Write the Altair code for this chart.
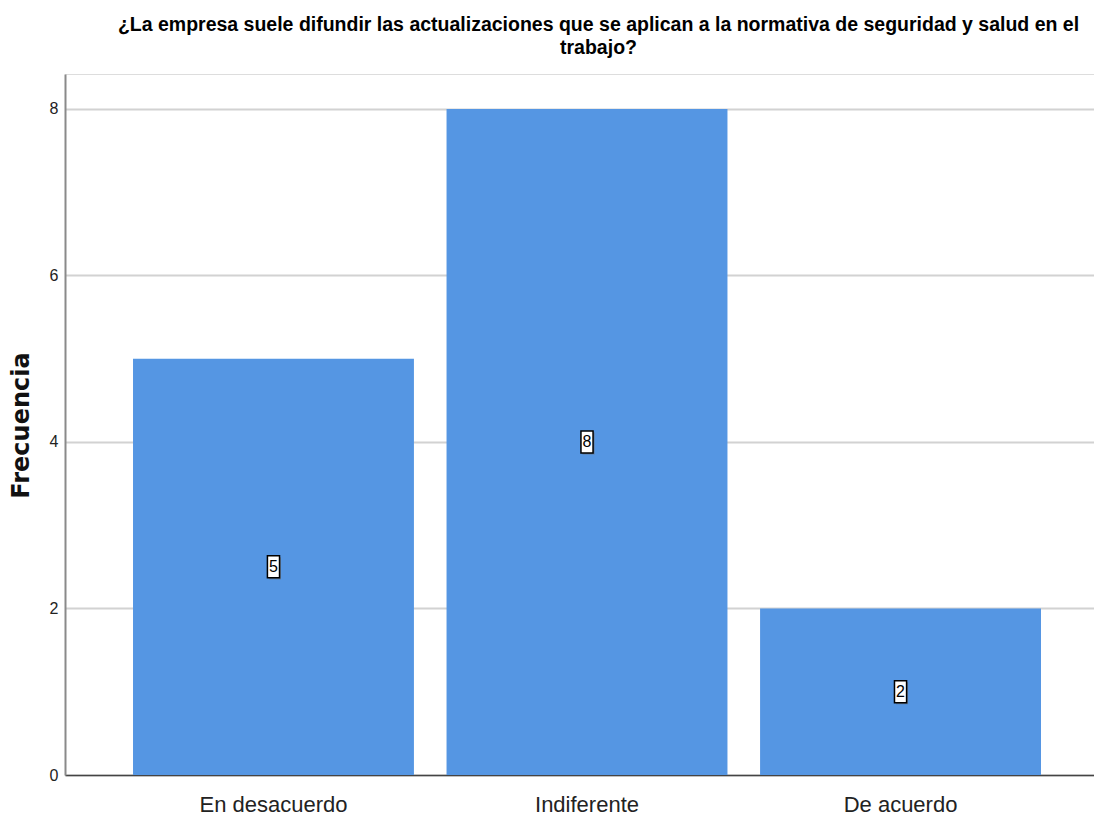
import altair as alt
import pandas as pd

categories = ["En desacuerdo", "Indiferente", "De acuerdo"]
counts = [5, 8, 2]
y_ticks = [0, 2, 4, 6, 8]
title_lines = [
    "¿La empresa suele difundir las actualizaciones que se aplican a la normativa de seguridad y salud en el",
    "trabajo?",
]
y_title = "Frecuencia"

df = pd.DataFrame({"cat": categories, "n": counts})

NARROW = "Liberation Sans Narrow, Arial Narrow, Liberation Sans, sans-serif"
BAR = "#5596e3"

xscale = alt.Scale(domain=categories, paddingInner=0.104, paddingOuter=0.193, align=0.562)
yscale = alt.Scale(domain=[0, 8.42], nice=False, zero=True)

xenc = alt.X(
    "cat:N",
    sort=categories,
    scale=xscale,
    axis=alt.Axis(
        title=None, labelAngle=0, labelFont=NARROW, labelFontSize=22,
        labelColor="#222222", ticks=False, domain=True, domainColor="#444444",
        domainWidth=1.5, labelPadding=19, grid=False,
    ),
)
yenc = alt.Y(
    "n:Q",
    scale=yscale,
    axis=alt.Axis(
        title=y_title, values=y_ticks, format="d", ticks=False, labelFont=NARROW,
        labelFontSize=16, labelColor="#222222", labelPadding=7,
        domain=True, domainColor="#8a8a8a", domainWidth=2,
        grid=True, gridColor="#d2d2d2", gridWidth=2,
        titleFont="DejaVu Sans", titleFontWeight="bold", titleFontSize=24,
        titleColor="#111111", titleAngle=270, titleX=-37, titleY=351,
        titleAlign="center", titleBaseline="alphabetic",
    ),
)

bars = alt.Chart(df).mark_bar(color=BAR).encode(x=xenc, y=yenc)

mid = alt.Chart(df).transform_calculate(half="datum.n / 2")

box_shape = "M-0.55,-1H0.55V1H-0.55Z"
shadow = mid.mark_point(
    shape=box_shape, size=484, filled=True, color="#6a6a6a", opacity=0.6,
    xOffset=1.5, yOffset=1.5,
).encode(x=alt.X("cat:N", sort=categories, scale=xscale), y=alt.Y("half:Q", scale=yscale))
box = mid.mark_point(
    shape=box_shape, size=484, filled=True, fill="white", stroke="black",
    strokeWidth=1.5, opacity=1,
).encode(x=alt.X("cat:N", sort=categories, scale=xscale), y=alt.Y("half:Q", scale=yscale))
label = mid.mark_text(font=NARROW, fontSize=16, color="black", baseline="middle").encode(
    x=alt.X("cat:N", sort=categories, scale=xscale),
    y=alt.Y("half:Q", scale=yscale),
    text=alt.Text("n:Q"),
)

chart = (
    alt.layer(bars, shadow, box, label)
    .properties(
        width=1029,
        height=701,
        title=alt.TitleParams(
            text=title_lines, font=NARROW, fontWeight="bold", fontSize=19.5,
            color="black", anchor="middle", dx=19, offset=16, lineHeight=23,
        ),
        autosize=alt.AutoSizeParams(type="none"),
        padding={"left": 57, "top": 66, "right": 0, "bottom": 44},
    )
    .configure_view(stroke=None)
    .configure(background="white")
)

chart.save("out.html", embed_options={"renderer": "svg", "actions": False})
